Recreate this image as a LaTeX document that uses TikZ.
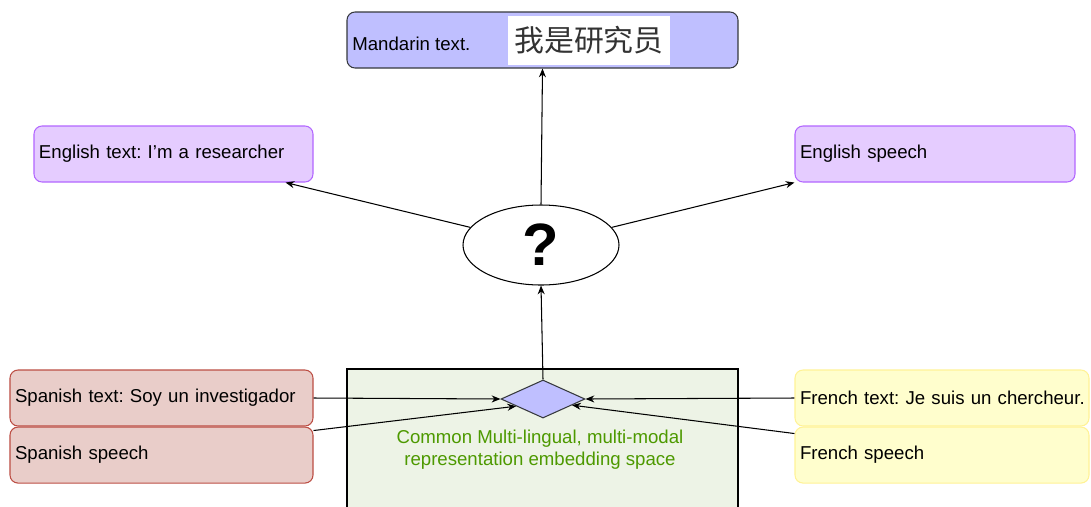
\documentclass[tikz,border=0pt]{standalone}
\usepackage{fontspec}
\setmainfont{Liberation Sans}
\newfontfamily\cjk{Noto Sans CJK SC}
\usetikzlibrary{positioning}
\usetikzlibrary{arrows.meta}
\usetikzlibrary{shapes.geometric}
\definecolor{mandfill}{RGB}{191,191,255}
\definecolor{darkline}{RGB}{54,57,61}
\definecolor{enfill}{RGB}{229,204,255}
\definecolor{enline}{RGB}{178,102,255}
\definecolor{spfill}{RGB}{233,205,201}
\definecolor{spline}{RGB}{188,78,68}
\definecolor{frfill}{RGB}{255,254,205}
\definecolor{frline}{RGB}{255,242,150}
\definecolor{spacefill}{RGB}{237,243,230}
\definecolor{spacetext}{RGB}{77,153,0}
\tikzset{
  box/.style={draw, rounded corners=0.16cm, line width=0.6pt, minimum height=1.12cm,
    inner xsep=0.1cm, align=left, font=\fontsize{10.6}{12.7}\selectfont},
}
\frenchspacing

\begin{document}
\begin{tikzpicture}[>={Stealth[length=5pt,width=4pt]}]
        \useasboundingbox (0,0) rectangle (21.82,-10.12);
        % nodes %
        \fill[spacefill] (6.94,-7.38) rectangle (14.76,-10.3);
        \draw[line width=0.6pt] (6.94,-10.3) -- (6.94,-7.38) -- (14.76,-7.38) -- (14.76,-10.3);
        \node[text centered, text=spacetext, align=center, font=\fontsize{10.6}{12.5}\selectfont] (spacelabel) at (10.80,-9.00) {Common Multi-lingual, multi-modal\\representation embedding space};

        \node[box, fill=mandfill, draw=darkline, minimum width=7.82cm] (mand) at (10.85,-0.80) {};
        \node[anchor=west, inner sep=0, font=\fontsize{10.6}{12.7}\selectfont] (mandlabel) at (7.04,-0.88) {Mandarin text.};
        \node[fill=white, minimum width=3.24cm, minimum height=0.98cm, inner sep=0, font=\cjk\fontsize{17}{20}\selectfont, text=black!80] (cn) at (11.78,-0.80) {我是研究员};

        \node[box, fill=enfill, draw=enline, text width=5.38cm] (entext) at (3.47,-3.08) {English text: I’m a researcher};
        \node[box, fill=enfill, draw=enline, text width=5.40cm] (enspeech) at (18.70,-3.08) {English speech};

        \node[draw, ellipse, line width=0.6pt, minimum width=3.12cm, minimum height=1.60cm, inner sep=0, font=\fontsize{34}{36}\selectfont\bfseries] (ques) at (10.82,-4.90) {?};

        \node[draw=darkline, fill=mandfill, diamond, line width=0.6pt, minimum width=1.68cm, minimum height=0.76cm, inner sep=0] (diam) at (10.86,-7.98) {};

        \node[box, fill=spfill, draw=spline, text width=5.86cm] (sptext) at (3.23,-7.96) {Spanish text: Soy un investigador};
        \node[box, fill=spfill, draw=spline, text width=5.86cm, below=0 of sptext] (spspeech) {Spanish speech};
        \node[box, fill=frfill, draw=frline, text width=5.68cm] (frtext) at (18.84,-7.96) {\mbox{French text: Je suis un chercheur.}};
        \node[box, fill=frfill, draw=frline, text width=5.68cm, below=0 of frtext] (frspeech) {French speech};

        % edges %
        \draw[->, line width=0.6pt] (sptext.east) -- (diam.west);
        \draw[->, line width=0.6pt] ([yshift=-0.08cm]spspeech.north east) -- (diam.195);
        \draw[->, line width=0.6pt] (frtext.west) -- (diam.east);
        \draw[->, line width=0.6pt] ([yshift=-0.14cm]frspeech.north west) -- (diam.-12);
        \draw[->, line width=0.6pt] (diam.north) -- (ques.south);
        \draw[->, line width=0.6pt] (ques.north) -- (mand.south);
        \draw[->, line width=0.6pt] (ques.166) -- ([xshift=-0.56cm]entext.south east);
        \draw[->, line width=0.6pt] (ques.14) -- (enspeech.south west);
      \end{tikzpicture}
\end{document}
